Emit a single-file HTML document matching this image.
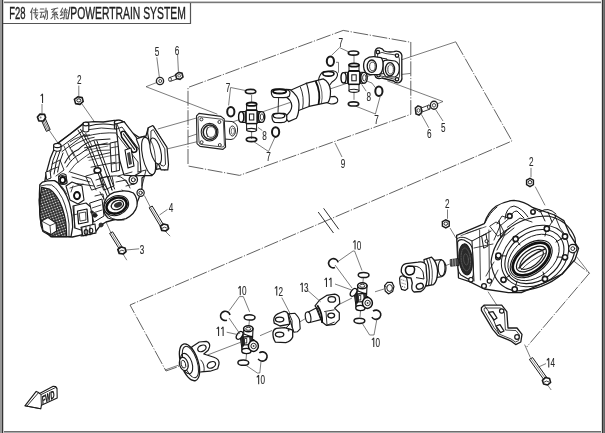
<!DOCTYPE html>
<html><head><meta charset="utf-8">
<style>
html,body{margin:0;padding:0;background:#fff;width:605px;height:433px;overflow:hidden}
svg{display:block;will-change:transform}
text{font-family:"Liberation Sans",sans-serif}
</style></head><body>
<svg width="605" height="433" viewBox="0 0 605 433">
<defs>
<pattern id="mesh" width="2.6" height="2.6" patternUnits="userSpaceOnUse" patternTransform="rotate(-20)">
<rect width="2.6" height="2.6" fill="#2a2a2a"/>
<circle cx="1.3" cy="1.3" r="0.75" fill="#fff"/>
</pattern>
<pattern id="mesh2" width="2.5" height="2.5" patternUnits="userSpaceOnUse" patternTransform="rotate(30)">
<rect width="2.5" height="2.5" fill="#fff"/>
<rect x="0" y="0" width="1.5" height="1.5" fill="#222"/>
</pattern>
</defs>
<rect x="0" y="0" width="605" height="433" fill="#fff"/>
<!-- frame -->
<g shape-rendering="crispEdges" stroke="none">
<rect x="0" y="1" width="605" height="1" fill="#c4c4c4"/>
<rect x="0" y="2" width="605" height="1" fill="#777"/>
<rect x="0" y="3" width="605" height="1" fill="#e6e6e6"/>
<rect x="0" y="431" width="605" height="1" fill="#6e6e6e"/>
<rect x="0" y="432" width="605" height="1" fill="#aaa"/>
<rect x="0" y="0" width="2" height="433" fill="#999"/>
<rect x="2" y="0" width="1" height="433" fill="#333"/>
<rect x="3" y="0" width="1" height="433" fill="#ccc"/>
<rect x="602" y="0" width="1" height="433" fill="#333"/>
<rect x="601" y="0" width="1" height="433" fill="#ddd"/>
<rect x="603" y="0" width="1" height="433" fill="#777"/>
<rect x="604" y="0" width="1" height="433" fill="#666"/>
</g>
<g fill="none"><polyline points="3,23.5 190.5,23.5 190.5,3" stroke="#555" stroke-width="1.2"/></g>
<!-- title -->
<g fill="#1e1e1e" stroke="#1e1e1e" stroke-width="0.35">
<text transform="translate(9.2,19.2) scale(0.6,1)" font-size="15.8">F28</text>
<text transform="translate(67.4,19.2) scale(0.656,1)" font-size="15.8">/POWERTRAIN SYSTEM</text>
</g>
<g stroke="#5a5a5a" stroke-width="1.05" fill="none" stroke-linecap="round">
<!-- 传 -->
<path d="M32.6,8 L30.6,12.5 M31.7,10.8 V19.5 M33.6,10 H37.6 M33.2,12.8 H38 M35.8,8 L35,15 H37.4 L35.4,17.6 M35.2,16.8 L37.6,19.2"/>
<!-- 动 -->
<path d="M40.3,9 H44 M40,12.2 H44.3 M42,12.2 L40.4,17.5 L44,16.5 M43.2,15 L44.3,17.6 M44.8,11 H47.4 V18.5 L46.4,19.5 M46,8 V13 L44.6,19"/>
<!-- 系 -->
<path d="M57.8,8 L51.5,9.4 M54.8,9.4 L52.3,12 L56.5,12.2 L52.2,15 L57.6,14.6 M56.2,13.2 L57.4,15 M54.8,15 V19.5 M53,16.6 L51,18.6 M56.6,16.6 L58.2,18.6"/>
<!-- 统 -->
<path d="M62.6,8 L60.6,12 L62.8,12 L60.6,15.5 L63.2,14.8 M60.4,18.8 L63.4,17.6 M65.4,8.2 V9.5 M63.8,10 H67.4 M65.2,10.2 L64,13 L67,12.6 M66.4,11.6 L67.2,13 M64.8,14 L63.8,19.2 M66.2,14 V18.6 L67.6,18.6"/>
</g>

<!-- dashed construction lines -->
<g fill="none" stroke="#5a5a5a" stroke-width="0.95" stroke-dasharray="15 1.6 1.2 1.6">
<polyline points="188,164 188,87.5 343.2,30.4 407.7,41.8 410.8,42 410.8,114.3 239.5,175.4 188,166"/>
<polyline points="455.7,41.8 512,141 130,305 166,371 180,366"/>
<polyline points="572.8,260.3 589.4,273.2 526.7,347"/>
</g>
<!-- break mark -->
<g stroke="#333" stroke-width="1"><line x1="318.2" y1="212" x2="333.5" y2="233"/><line x1="323.6" y1="208.3" x2="338.8" y2="229.3"/></g>

<!-- axis / leader lines (solid thin) -->
<g fill="none" stroke="#444" stroke-width="0.7">
<polyline points="157,82.4 146,86.7 217.4,114.2"/>
<line x1="49" y1="130" x2="60" y2="146"/>
<line x1="82" y1="104" x2="96" y2="124"/>
<line x1="157.8" y1="129" x2="200" y2="117"/>
<line x1="165.2" y1="149.4" x2="200" y2="141"/>
<line x1="387.3" y1="80.8" x2="443" y2="101.5"/><line x1="443" y1="101.5" x2="437" y2="104"/>
<line x1="399.4" y1="60.5" x2="455.7" y2="41.8"/>
<line x1="402" y1="74.4" x2="410.5" y2="73.4"/>
<line x1="144.4" y1="195.5" x2="150.3" y2="207"/>
<line x1="165" y1="231" x2="170.2" y2="236.2"/>
<line x1="106" y1="222" x2="111" y2="232.9"/>
<line x1="123" y1="254" x2="126.8" y2="260.2"/>

<line x1="450" y1="228" x2="456" y2="238"/>


<line x1="165" y1="370" x2="180.7" y2="364.4"/>
<line x1="207.5" y1="355" x2="240.8" y2="342.2"/>
<line x1="260" y1="335.7" x2="272" y2="330.5"/>
<line x1="298" y1="323" x2="305" y2="318.8"/>
<line x1="338" y1="305" x2="352" y2="298"/>
<line x1="375" y1="291.8" x2="384" y2="289"/>
<line x1="442.5" y1="266.8" x2="449.9" y2="264"/>
<line x1="0" y1="0" x2="0" y2="0"/>
</g>


<!-- ===== parts ===== -->
<g id="ujoint-def" style="display:none"></g>
<defs>
<g id="cross">
 <line x1="0" y1="-22" x2="0" y2="22" stroke="#444" stroke-width="0.7"/>
 <rect x="-5" y="-13" width="10" height="8" fill="#fff" stroke="#1a1a1a" stroke-width="1"/>
 <ellipse cx="0" cy="-12.8" rx="5" ry="1.7" fill="#fff" stroke="#111" stroke-width="1.8"/>
 <rect x="-5" y="6" width="10" height="7" fill="#fff" stroke="#1a1a1a" stroke-width="1"/>
 <ellipse cx="0" cy="13" rx="5" ry="1.6" fill="#fff" stroke="#1a1a1a" stroke-width="1.1"/>
 <rect x="-9" y="-5.5" width="18" height="11" fill="#fff" stroke="#111" stroke-width="1"/>
 <rect x="-5.5" y="-6.5" width="11" height="13" fill="#fff" stroke="#111" stroke-width="1.1"/>
 <rect x="-7" y="-5.5" width="2" height="11" fill="#222"/>
 <rect x="5" y="-5.5" width="2.2" height="11" fill="#222"/>
 <rect x="-2.2" y="-3" width="4.4" height="6" fill="none" stroke="#111" stroke-width="1"/>
 <line x1="-5" y1="-7" x2="5" y2="-7" stroke="#111" stroke-width="1.6"/>
 <line x1="-5" y1="6.6" x2="5" y2="6.6" stroke="#111" stroke-width="1.4"/>
 <ellipse cx="-10.4" cy="0" rx="2.6" ry="5.2" fill="#fff" stroke="#111" stroke-width="1.4"/>
 <ellipse cx="10" cy="0" rx="3.2" ry="5.4" fill="#fff" stroke="#111" stroke-width="1.4"/>
 <ellipse cx="10.3" cy="0" rx="1.7" ry="3.2" fill="none" stroke="#222" stroke-width="0.9"/>
</g>
<g id="cross2">
 <line x1="2.4" y1="-20" x2="-1" y2="20" stroke="#444" stroke-width="0.7"/>
 <!-- top cup cylinder -->
 <path d="M-3.4,-11 L6,-11.5 L5.6,-2 L-3,-1 Z" fill="#fff" stroke="#111" stroke-width="1.1"/>
 <!-- bottom cup cylinder -->
 <path d="M-5,3 L4,3 L4,11 L-5,11 Z" fill="#fff" stroke="#111" stroke-width="1.1"/>
 <!-- body -->
 <path d="M-7,-5 L-3,-6 L5,-3 L7,4 L2,9 L-5,9 L-6,2 Z" fill="#fff" stroke="#111" stroke-width="1.1"/>
 <path d="M-6,-4 L-3.4,-5.6 L-2,4 L-4.6,8.6 L-5.8,2 Z" fill="#222"/>
 <path d="M2,-4 L5,-3 L6.2,1 L2.6,1.6 Z" fill="#333"/>
 <path d="M-3.4,-3 L5.6,-3.6" stroke="#111" stroke-width="1.4"/>
 <path d="M-4.6,5 L3.6,4.6" stroke="#111" stroke-width="1.2"/>
 <rect x="-2.4" y="-1.4" width="2.2" height="4.4" fill="#fff" stroke="#111" stroke-width="0.8"/>
 <!-- top face -->
 <ellipse cx="1.3" cy="-11.2" rx="4.7" ry="3" fill="#fff" stroke="#111" stroke-width="1.5"/>
 <ellipse cx="1.3" cy="-11.2" rx="2.6" ry="1.5" fill="none" stroke="#222" stroke-width="0.9"/>
 <!-- left cup -->
 <ellipse cx="-7.4" cy="-4.6" rx="2.6" ry="4.4" transform="rotate(35 -7.4 -4.6)" fill="#fff" stroke="#111" stroke-width="1.3"/>
 <!-- bottom face -->
 <ellipse cx="-0.6" cy="11" rx="4.6" ry="2.6" fill="#fff" stroke="#111" stroke-width="1.3"/>
 <!-- right cup -->
 <path d="M3,1 L7,-0.6 L11,8 L6,11.4 Z" fill="#fff" stroke="#111" stroke-width="1"/>
 <ellipse cx="6.4" cy="6" rx="5" ry="5.4" fill="#fff" stroke="#111" stroke-width="1.5"/>
 <circle cx="6.6" cy="6" r="2.7" fill="none" stroke="#222" stroke-width="1"/>
 <circle cx="6.6" cy="6" r="0.9" fill="#444" stroke="none"/>
</g>
<g id="clipflat2"><ellipse cx="0" cy="0" rx="5.4" ry="2.6" fill="none" stroke="#1a1a1a" stroke-width="1.5"/></g>
<g id="clipflat"><ellipse cx="0" cy="0" rx="5.2" ry="2.1" fill="none" stroke="#1a1a1a" stroke-width="1.7"/></g>
<g id="clipside"><ellipse cx="0" cy="0" rx="3.6" ry="4.8" fill="none" stroke="#1a1a1a" stroke-width="2"/></g>
<g id="clipC"><path d="M1.5,4.6 A4.8,4.6 0 1 1 4.6,-0.6" fill="none" stroke="#1a1a1a" stroke-width="1.6"/></g>
<g id="hexnut">
 <polygon points="-3.6,-2.6 0,-4.4 3.6,-2.6 3.6,2.2 0,4.2 -3.6,2.2" fill="#fff" stroke="#1a1a1a" stroke-width="1.5"/>
 <ellipse cx="0" cy="-0.4" rx="1.9" ry="1.8" fill="none" stroke="#222" stroke-width="1"/>
</g>
</defs>


<!-- ===== FRONT DIFF ===== -->
<g id="fd" stroke="#1a1a1a" fill="#fff" stroke-linejoin="round" stroke-linecap="round">
 <!-- silhouette -->
 <path d="M44.8,181.3 L46.3,172.8 L50.3,158.3 L54.4,148.6 L56,144.6 L70,134 L84.3,122.6 L93.5,121.6 L103.3,122 L114.3,120.4 L120,120.4 L124.2,122.2 L129.8,131.4 L139.3,137.5 L146,136 L148.3,127.8 L153.5,126.3 L166.3,147.3 L167.8,166.8 L164.8,169.8 L161.8,168.3 L152,170 L142,178 L142,188 L139.7,196 L137.4,201.7 L134.9,209.7 L126.8,217 L115.5,219.4 L106,222 L100.2,225.6 L94.7,233 L81.7,234.9 L72.5,237 L67,236.7 L52,236.7 L43,231.5 L41,225.6 L39.2,200 L41,188.7 Z" stroke-width="1.3"/>
 <!-- mesh face -->
 <path d="M39.8,184.7 L42.4,182.1 Q48,180.4 54.5,180.7 Q58,182 60.6,186.5 Q64,190 66.7,196 Q69.6,202 71,210 Q72.6,218 72.7,227.2 L71,236.7 L51,236.7 Q44,230 40.7,222 Q38.6,204 39.8,184.7 Z" fill="#fff" stroke-width="1.3"/>
 <path d="M41.5,187.3 Q45,188 49.3,189 Q53,191 56.3,196 Q60,201 62.3,208 Q64.6,215 65.8,222 Q66.6,230 66.7,236.7 L51,236.7 Q44,230 40.7,222 Q38.8,204 41.5,187.3 Z" fill="url(#mesh)" stroke-width="1.2"/>
 <path d="M40.6,186 Q47,184 51.6,185 Q56,187.6 58.6,192 Q63,198 65,205 Q68,214 69,224 L69,236.7" fill="none" stroke-width="0.9"/>
 <path d="M54.5,180.7 Q62,184 66.7,194" fill="none" stroke-width="0.8"/>
 <!-- small box protrusion -->
 <path d="M41.5,221 L48,217.6 L56,223 L56.6,231 L50.8,234.6 L43,230.4 Z" stroke-width="1.1"/>
 <path d="M41.5,221 L50,225.6 L56,223 M50,225.6 L50.8,234.6" fill="none" stroke-width="0.8"/>
 <!-- shell rim (double band) -->
 <path d="M57,144 L83,124.4" fill="none" stroke-width="1.1"/>
 <path d="M59.6,148 L84.6,129.4" fill="none" stroke-width="1"/>
 <path d="M62,151.6 L86,133.6" fill="none" stroke-width="0.9"/>
 <!-- left post -->
 <path d="M57,150 Q52,160 50.6,172 M60,151 Q55.6,161 54,174 M63,153 Q59,162 57.6,172" fill="none" stroke-width="1"/>
 <path d="M46,172 L50,170.6 L51,178 L47,179.6 Z" stroke-width="1"/>
 <path d="M58.6,176 Q62,172 66,175 L67,182 Q63,185 59,182 Z" stroke-width="1.1"/>
 <ellipse cx="62.7" cy="179.6" rx="2.4" ry="3" fill="#fff" stroke-width="1.4"/>
 <!-- studs -->
 <path d="M53.6,145.5 L53.6,150 Q57.4,152.6 61,150 L61,145.5" stroke-width="1.1"/>
 <ellipse cx="57.3" cy="145.5" rx="3.7" ry="2.2" stroke-width="1.2"/>
 <path d="M83,124 L83,131 Q85.8,133 88.8,131 L88.8,124" stroke-width="1.1"/>
 <ellipse cx="85.9" cy="124" rx="2.9" ry="1.8" stroke-width="1.2"/>
 <path d="M114.4,122.3 L114.4,128.6 Q118.6,131 122.7,128.6 L122.7,122.3" stroke-width="1.1"/>
 <ellipse cx="118.5" cy="122.3" rx="4.1" ry="2.2" stroke-width="1.2"/>
 <!-- dome arcs -->
 <path d="M88.8,126 Q100,122.6 114.4,125" fill="none" stroke-width="1.1"/>
 <path d="M88.8,129.6 Q101,126.6 114.4,129" fill="none" stroke-width="0.9"/>
 <path d="M85,136.6 Q100,132 117.7,133" fill="none" stroke-width="0.9"/>
 <!-- main cover arc band -->
 <path d="M64.8,163 Q70,153 78,149.8 Q86,142 94.6,140 L110,139" fill="none" stroke-width="1.1"/>
 <path d="M66.6,167 Q72,158 80,154 Q88,147 96,145 L110,144" fill="none" stroke-width="1"/>
 <path d="M69,172 Q75,163 82,159 Q90,152 97,150.6 L110,150" fill="none" stroke-width="0.8"/>
 <path d="M70,142 Q78,136 89.4,134.8 M70,147.8 Q82,139 94.2,137.3" fill="none" stroke-width="0.9"/>
 <!-- horizontal bands -->
 <path d="M84.5,147.8 L107.2,143 M87.8,157.5 L110.4,152.6 M91,167.2 L115.2,162.3" fill="none" stroke-width="0.9"/>
 <path d="M85,150.6 L108,146 M89,160.4 L111,155.6" fill="none" stroke-width="0.6"/>
 <!-- frame box -->
 <path d="M110.4,143 L118.5,141.3 L119.6,170.4 L112,172 Z" fill="none" stroke-width="1"/>
 <path d="M111,147.8 L118.6,146.4 M111.4,155.8 L119,154.4 M111.8,164 L119.4,162.6" fill="none" stroke-width="0.8"/>
 <path d="M115,142 L116.4,171" fill="none" stroke-width="0.7"/>
 <!-- long ribs -->
 <path d="M78,130 L88.6,149.4 L97.5,172 L108.8,200 M80.6,129.4 L91.2,149 L100,171.4 L111.4,199" fill="none" stroke-width="1"/>
 <path d="M94.2,141.3 L105.5,172 L112,190 M96.8,140.6 L108,171.4 L114.6,189" fill="none" stroke-width="1"/>
 <path d="M64,146 L70,160 M68,143.4 L74,156" fill="none" stroke-width="0.8"/>
 <!-- boss in middle -->
 <ellipse cx="97.5" cy="170.4" rx="3.4" ry="2.6" fill="#fff" stroke-width="1.6"/>
 <path d="M70,172 L91,178.5 L96,190 M74.8,183.3 L94,186 M72,177 L90,182" fill="none" stroke-width="0.9"/>
 <!-- slot bracket -->
 <path d="M116,124 L124,121.6 L146,150 L145,172 L136,176 L124,175.2 L119.6,160 Z" stroke-width="1.2"/>
 <path d="M117,129 L122,127 L141,152 L141,170 M116.4,134 L138,162 L138,172" fill="none" stroke-width="0.9"/>
 <path d="M121,133 Q122,130.6 124.6,131.6 L136.6,148 Q137.6,151 135.4,152 L133,152.6 L121.6,137 Z" fill="#fff" stroke="#111" stroke-width="1.5"/>
 <path d="M123.4,134 L134.6,149.4" stroke="#222" stroke-width="1.2"/>
 <path d="M125,150 L131,148 L134,166 L128,168 Z" fill="#fff" stroke="#111" stroke-width="1.1"/>
 <path d="M127,153 L130,152 L132,164 L129,165 Z" fill="#444" stroke="none"/>
 <path d="M124,121.6 L121.6,122.2 M117,124 L121,134" fill="none" stroke-width="0.9"/>
 <!-- neck -->
 <path d="M136.3,139 L143,136.8 Q153,141 157.3,156 Q158.6,170 152,175.6 L140,175.6 L134,176 L141,172 L139,146 Z" stroke-width="1.1"/>
 <ellipse cx="148.6" cy="156" rx="6" ry="19" transform="rotate(-12 148.6 156)" stroke-width="1.1"/>
 <!-- flange -->
 <path d="M148.3,127.8 L152.8,125.5 L167,147.3 L168.5,164.5 L167.8,169.8 L161,169.8 L149.4,143 L147.6,133 Z" stroke-width="1.2"/>
 <path d="M151.3,130.8 L153.4,129.6 L164.8,148.8 L165.5,164.5 L163.6,166 L161,165.3 L151,142 Z" fill="none" stroke-width="0.9"/>
 <ellipse cx="155.7" cy="151" rx="5" ry="13.4" transform="rotate(-14 155.7 151)" stroke-width="1.1"/>
 <path d="M150.4,139.6 Q156,150 155.4,164" fill="none" stroke-width="0.8"/>
 <!-- left column bosses -->
 <path d="M66,186 L72,182 L82,186 L84,200 L78,204 L70,200 Z" stroke-width="1.1"/>
 <path d="M58.6,177 Q62,174 66,177 L67,183 Q63,186 59,183 Z" stroke-width="1.1"/>
 <ellipse cx="62.6" cy="180" rx="2.6" ry="3" fill="#fff" stroke="#111" stroke-width="1.8"/>
 <ellipse cx="77" cy="195.6" rx="3" ry="3.6" fill="#fff" stroke="#111" stroke-width="1.9"/>
 <path d="M70,188 L83,184 M71,192 L73,186" fill="none" stroke-width="0.8"/>
 <path d="M86,176 L100,172 L104,186 L92,190 Z" fill="none" stroke-width="0.9"/>
 <!-- lower-left boss block -->
 <path d="M73,206 L86,203 L92,208 L93,227.4 L84,231 L75,228 Z" stroke-width="1.2"/>
 <path d="M77.5,211 L87,209 L88,222 L78.6,224 Z" fill="#fff" stroke="#111" stroke-width="1.2"/>
 <path d="M79.6,213 L85.6,212 L86,220 L80.4,221 Z" fill="none" stroke-width="0.8"/>
 <path d="M74,206 L74.6,228 M73,215 L77.6,214" fill="none" stroke-width="0.8"/>
 <path d="M90,203 L102,199 L104,216 L94,222 Z" stroke-width="1"/>
 <path d="M92,208 L101,205 M93,213 L102,210" fill="none" stroke-width="0.8"/>
 <ellipse cx="94.9" cy="215.3" rx="2.2" ry="2" fill="#222" stroke-width="0.8"/>
 <path d="M81,227.4 L95,224 L96,233 L83,236 Z" stroke-width="1.1"/>
 <ellipse cx="86" cy="232" rx="1.8" ry="2.4" fill="#fff" stroke-width="1.1"/>
 <ellipse cx="91" cy="230.6" rx="1.8" ry="2.4" fill="#fff" stroke-width="1.1"/>
 <ellipse cx="101" cy="225" rx="2" ry="2" fill="#333" stroke-width="0.8"/>
 <!-- extra density -->
 <path d="M52,164 L60,160 L64,170 L56,176 M50,170 L58,167" fill="none" stroke-width="0.9"/>
 <path d="M118,176 L132,172 M116,182 L126,180 L130,188 M122,190 L130,196" fill="none" stroke-width="0.9"/>
 <path d="M100,178 L112,176 L114,186 L104,190 Z" fill="none" stroke-width="0.9"/>
 <path d="M72,150 L78,162 M86,134 L92,146" fill="none" stroke-width="0.8"/>
 <!-- output boss -->
 <path d="M103.6,207 Q104,196 114,192.4 Q126,189 133.4,193 Q138,198 137,206 Q135,214 126,218.6 Q116,221.6 108,218 Q103.4,214 103.6,207 Z" stroke-width="1.2"/>
 <ellipse cx="116.4" cy="205.6" rx="12.6" ry="9.6" transform="rotate(-22 116.4 205.6)" stroke-width="1.1"/>
 <ellipse cx="116.6" cy="205.6" rx="10.4" ry="7.6" transform="rotate(-22 116.6 205.6)" fill="none" stroke="#111" stroke-width="2.6"/>
 <ellipse cx="117.4" cy="205" rx="6.4" ry="4.4" transform="rotate(-22 117.4 205)" stroke-width="1.2"/>
 <ellipse cx="118" cy="204.8" rx="4.2" ry="2.6" transform="rotate(-22 118 204.8)" fill="#333" stroke="none"/>
 <path d="M104,210 Q110,222 124,220" fill="none" stroke-width="0.9"/>
 <!-- extra lower-left details -->
 <path d="M82,228 L82,236 M86,227 L86,236 M90,226 L90,235" fill="none" stroke-width="0.9"/>
 <path d="M81,236 L95,233" fill="none" stroke-width="1"/>
 <path d="M95,196 L103,194 L104,200 M97,186 L104,184 L108,190" fill="none" stroke-width="0.9"/>
 <ellipse cx="92" cy="212" rx="1.8" ry="1.6" fill="#222" stroke="none"/>
 <!-- bolt bosses right -->
 <circle cx="133.3" cy="179.8" r="4.2" stroke-width="1.3"/>
 <circle cx="133.3" cy="179.8" r="2" stroke-width="1"/>
 <circle cx="140.6" cy="192.8" r="3.6" stroke-width="1.2"/>
 <circle cx="140.6" cy="192.8" r="1.7" stroke-width="0.9"/>
 <path d="M138,172 L146,170 L142,186 M126,186 L134,184" fill="none" stroke-width="0.9"/>
 <!-- lower housing lines -->
 <path d="M96,180 L108,176 L112,190 M100,192 L104,199" fill="none" stroke-width="0.9"/>
 <path d="M112,176 Q122,174 128,184" fill="none" stroke-width="0.9"/>
</g>
<!-- bolts 3,4 -->
<g stroke="#1a1a1a" fill="#fff" stroke-linejoin="round">
 <path d="M149.2,207.8 L152.2,206 L163.4,224.6 L160.4,226.4 Z" stroke-width="1"/>
 <path d="M150.8,207.4 L161.8,225.4" fill="none" stroke-width="0.5"/>
 <polygon points="160.4,226.2 163.6,224 167.6,225 168.6,228.6 165.8,231 161.8,230.4" fill="#fff" stroke-width="1.7"/>
 <path d="M162,228.4 L164.4,227.2 L166.8,228" fill="none" stroke-width="0.8"/>
 <path d="M109.6,233.4 L112.6,231.8 L122.4,247.4 L119.4,249.2 Z" stroke-width="1"/>
 <path d="M111.2,232.8 L120.8,248.4" fill="none" stroke-width="0.5"/>
 <polygon points="117.8,249.4 121,247 125,248 126,251.6 123.2,254 119.2,253.4" fill="#fff" stroke-width="1.7"/>
 <path d="M119.4,251.4 L121.8,250.2 L124.2,251" fill="none" stroke-width="0.8"/>
</g>
<g fill="none" stroke="#444" stroke-width="0.7">
 <line x1="167.5" y1="209.4" x2="159.5" y2="215"/>
 <line x1="139.2" y1="248.8" x2="125.9" y2="250"/>
</g>


<!-- ===== REAR DIFF ===== -->
<g id="rd" stroke="#1a1a1a" fill="#fff" stroke-linejoin="round" stroke-linecap="round">
 <!-- silhouette -->
 <path d="M456.6,235.4 L484.3,223.6 Q488,212 496,206.3 Q505,201 514,200.3 Q524,201 533,207.7 L554.6,215 L563.8,220.6 L569.3,233.6 L578.6,248.4 L575,259.5 L562,274.2 L547,281.6 L521.3,292.7 L508.4,292.7 L484.3,289 L469.6,281.6 L458.5,278 Z" stroke-width="1.3"/>
 <!-- dome inner -->
 <path d="M484.7,223.3 Q490,212 497,207 M499.2,220.8 L500.8,237" fill="none" stroke-width="1"/>
 <path d="M505,219 Q506,207 514,206 Q522,208 528,217 M510,218 Q512,211 517,211 L524,218" fill="none" stroke-width="1"/>
 <!-- input block -->
 <path d="M457,239 Q460,236 466,238 L472,241 L491,231 M472,241 L474,281" fill="none" stroke-width="1"/>
 <path d="M461,235.6 L481,228 M466,233.6 L486,226.6" fill="none" stroke-width="0.7"/>
 <path d="M457.6,242 Q459,238.6 464,240 L469,243 Q472.6,246 472.6,252 L473.4,274 Q473,280 468,279 L461,275 Q458,272 458,268 Z" fill="#fff" stroke-width="1.1"/>
 <ellipse cx="465.6" cy="259.4" rx="6.6" ry="15.6" transform="rotate(-6 465.6 259.4)" fill="#2a2a2a" stroke-width="1"/>
 <ellipse cx="465.8" cy="259.4" rx="4.6" ry="11.4" transform="rotate(-6 465.8 259.4)" fill="none" stroke="#777" stroke-width="0.6" stroke-dasharray="1.2 1.2"/>
 <ellipse cx="466" cy="259.4" rx="2.4" ry="5.6" transform="rotate(-6 466 259.4)" fill="none" stroke="#666" stroke-width="0.6"/>
 <path d="M450.5,259.6 L458.4,258.4 L459,265.4 L451,266.2 Z" fill="#444" stroke-width="0.8"/>
 <path d="M452.6,259.2 L453,266 M455,258.8 L455.4,265.8" stroke="#fff" stroke-width="0.5"/>
 <path d="M479.6,230 L480.4,280 M488.9,230 L489.4,283 M474,248 L493,244" fill="none" stroke-width="0.8"/>
 <path d="M482,236 L486,234 L488,246 L484,248 Z" fill="none" stroke-width="1"/>
 <circle cx="486.6" cy="241.2" r="1.6" fill="#fff" stroke-width="1"/>
 <path d="M490,226 L496,222 L500,224 L504,232 L498,236 Z" fill="none" stroke-width="0.9"/>
 <path d="M497,224 L502,216 L508,218 M503,232 L510,228" fill="none" stroke-width="0.9"/>
 <circle cx="470.9" cy="279.7" r="2.2" stroke-width="1.2"/>
 <circle cx="484" cy="286" r="2.4" stroke-width="1.3"/>
 <circle cx="489.4" cy="281" r="2.2" stroke-width="1.2"/>
 <circle cx="498" cy="257.4" r="2.4" stroke-width="1.3"/>
 <!-- rd extra -->
 <path d="M494,240 L500,226 L512,216 M497,250 L504,236 L514,228" fill="none" stroke-width="0.9"/>
 <path d="M490,286 L498,270 M486,276 L494,262" fill="none" stroke-width="0.8"/>
 <!-- main face rings -->
 <path d="M491,262 Q493,244 507,230 Q524,216 548,216 Q568,220 575,238 Q578,258 562,274 Q544,290 516,291 Q494,288 491,262 Z" fill="none" stroke-width="1.2"/>
 <ellipse cx="535" cy="256" rx="36" ry="28" transform="rotate(-35 535 256)" fill="none" stroke-width="1"/>
 <ellipse cx="534.4" cy="256.6" rx="32" ry="24" transform="rotate(-36 534.4 256.6)" fill="none" stroke-width="1.1"/>
 <ellipse cx="533.6" cy="257.4" rx="28.6" ry="19.6" transform="rotate(-37 533.6 257.4)" fill="none" stroke-width="0.9"/>
 <path d="M515.6,239 L520,245 M546.8,228.7 L545,236 M565,236.5 L556,242 M565,257.3 L557,257 M545,279 L543,272 M514.7,289.3 L517,281 M503.5,279.8 L510,275 M498.4,255.6 L506,256" fill="none" stroke-width="1"/>
 <ellipse cx="531.2" cy="259" rx="24" ry="14.6" transform="rotate(-38 531.2 259)" fill="#fff" stroke-width="1.1"/>
 <ellipse cx="531.2" cy="259" rx="21.4" ry="12.4" transform="rotate(-38 531.2 259)" fill="none" stroke="#111" stroke-width="2.8"/>
 <ellipse cx="531.4" cy="259" rx="17.6" ry="9" transform="rotate(-38 531.4 259)" fill="#fff" stroke-width="1.2"/>
 <ellipse cx="531.6" cy="259.4" rx="14" ry="6.4" transform="rotate(-38 531.6 259.4)" fill="none" stroke-width="1.1"/>
 <path d="M519,268 Q528,256 545,249" fill="none" stroke="#222" stroke-width="1.6"/>
 <path d="M521,270 Q530,260 546,253" fill="none" stroke-width="0.8"/>
 <!-- upper ribs / tubes -->
 <path d="M533,207.7 L540,212 Q548,206 556,214 M539.6,209.5 L545,221 M548,212 L552,222" fill="none" stroke-width="1"/>
 <path d="M554.6,215 L560,228 L566,236 M556,216 L548,228" fill="none" stroke-width="0.9"/>
 <path d="M507.3,227.3 L520,218 L532,222 M498.4,240 L505,234" fill="none" stroke-width="0.9"/>
 <!-- right boss -->
 <circle cx="572.8" cy="248.6" r="4.2" stroke-width="1.3"/>
 <circle cx="572.8" cy="248.6" r="1.9" stroke-width="0.9"/>
 <!-- bolt bosses -->
 <g stroke-width="1.6">
 <circle cx="509.7" cy="216" r="2.4"/><circle cx="515.6" cy="239" r="2.6"/><circle cx="546.8" cy="228.7" r="2.6"/>
 <circle cx="565" cy="236.5" r="2.6"/><circle cx="565" cy="257.3" r="2.6"/><circle cx="545" cy="279" r="2.6"/>
 <circle cx="514.7" cy="289.3" r="2.6"/><circle cx="503.5" cy="279.8" r="2.6"/><circle cx="498.4" cy="255.6" r="2.6"/>
 <circle cx="533" cy="212" r="2.2"/>
 </g>
</g>
<!-- nuts 2 (rear) -->
<use href="#hexnut" transform="translate(530,182.6) scale(0.95)"/>
<use href="#hexnut" transform="translate(445.8,224) scale(0.95)"/>
<g fill="none" stroke="#444" stroke-width="0.7">
 <line x1="531" y1="167.9" x2="531" y2="177.2"/>
 <line x1="447.5" y1="209.5" x2="447.5" y2="218.8"/>
 <line x1="535.2" y1="186.6" x2="545" y2="205.3"/><line x1="576" y1="256" x2="589.4" y2="273.2"/>
 <line x1="488" y1="291.7" x2="498" y2="307"/>
</g>
<!-- bracket -->
<g stroke="#1a1a1a" fill="#fff" stroke-linejoin="round">
 <path d="M481.4,307.8 L484,305.2 L501.7,305.2 L506.8,311.6 L508,328 L517,328 L522,334.4 L520.8,342 L515.7,344.6 L510.6,340.8 L498,335.7 L492.8,329.3 L481.4,310.3 Z" stroke-width="1.3"/>
 <path d="M484.4,308 L500.6,308 L504.4,312.6 L505.4,330 L516,330.6 L519.4,335 L518.6,340.6 L515.4,342 L511,339 L499,334 L494,327.6 L484,310 Z" fill="none" stroke-width="0.8"/>
 <path d="M484,305.2 L492,316 L499,334" fill="none" stroke-width="0.9"/>
 <circle cx="501.7" cy="311" r="2.2" stroke-width="1.2"/>
 <path d="M488.6,312.4 L493,311.6 L497,318 L494,320 Z" fill="#fff" stroke-width="1.3"/>
 <path d="M496,326 L500,324.6 L504,331 L500.6,332.6 Z" fill="#fff" stroke-width="1.3"/>
 <circle cx="517" cy="337" r="2.3" stroke-width="1.2"/>
</g>
<!-- bolt 14 -->
<g stroke="#1a1a1a" fill="#fff" stroke-linejoin="round">
 <path d="M529.4,359.4 L532.6,357.6 L546.4,377 L543.4,379 Z" stroke-width="1"/>
 <path d="M531,358.6 L545,378" fill="none" stroke-width="0.5"/>
 <polygon points="542.4,380.4 545.6,377.4 549.6,378.6 550.6,382.4 547.6,385 543.6,384" fill="#fff" stroke-width="1.6"/><path d="M543.8,382.4 L546.4,381 L549,382" fill="none" stroke-width="0.8"/>
 <line x1="547.6" y1="385" x2="551.2" y2="390" stroke="#444" stroke-width="0.7"/>
 <line x1="524.6" y1="344.6" x2="530.4" y2="357.6" stroke="#444" stroke-width="0.7"/>
 <line x1="546" y1="363.6" x2="538.5" y2="367" stroke="#444" stroke-width="0.7"/>
</g>


<!-- ===== LOWER SHAFT ===== -->
<!-- flange yoke -->
<g stroke="#1a1a1a" fill="#fff" stroke-linejoin="round">
 <path d="M191.7,347 L199.3,342 L206.3,341.4 Q210.6,343 209.5,347 L208.2,350.2 L203.8,354 L213.9,357.2 Q219.6,359 219,364 L217.7,368.7 L210.1,371.2 L201.2,371.8 L196,372 Z" stroke-width="1.2"/>
 <ellipse cx="201.9" cy="348.4" rx="4.4" ry="3" transform="rotate(-25 201.9 348.4)" stroke-width="1.3"/>
 <ellipse cx="211.4" cy="364.9" rx="4.4" ry="3" transform="rotate(-25 211.4 364.9)" stroke-width="1.3"/>
 <path d="M200.6,359.8 Q205,364 204,372" fill="none" stroke-width="0.9"/>
 <ellipse cx="189.5" cy="362.3" rx="19.2" ry="8.6" transform="rotate(71.6 189.5 362.3)" stroke-width="1.3"/>
 <ellipse cx="190.4" cy="362" rx="16.4" ry="6.6" transform="rotate(71.6 190.4 362)" fill="none" stroke-width="1"/>
 <ellipse cx="186.6" cy="363.6" rx="10.6" ry="5.4" transform="rotate(71.6 186.6 363.6)" fill="none" stroke-width="1.1"/>
 <ellipse cx="183.8" cy="364" rx="4.2" ry="6.8" transform="rotate(-15 183.8 364)" stroke-width="1.2"/>
 <ellipse cx="183.4" cy="364.2" rx="2.2" ry="4" transform="rotate(-15 183.4 364.2)" fill="none" stroke-width="0.9"/>
</g>
<!-- yoke 12 -->
<g stroke="#1a1a1a" fill="#fff" stroke-linejoin="round">
 <path d="M288.1,313.9 L295,313.3 Q299.6,318 299.6,320.8 L300.2,328.9 L297.3,331.8 L293.9,332.3 Z" stroke-width="1.1"/>
 <path d="M289.2,313.9 Q293.4,320 292.1,327.7" fill="none" stroke-width="1"/>
 <path d="M273.7,320.2 Q274,315.6 277.7,313.9 L283.5,311.5 Q287,311 288,314 L289.8,324.2 L280,326 L274.2,323.1 Z" stroke-width="1.3"/>
 <ellipse cx="279.6" cy="319.6" rx="4.2" ry="2.4" stroke-width="1.3"/>
 <path d="M273,332.3 Q273.6,329 276.5,328.3 L284.6,327.7 L292.7,330 L292.7,337 Q291,341 285.8,342.7 L275.4,342.1 Q272.6,338 273,332.3 Z" stroke-width="1.3"/>
 <ellipse cx="279.6" cy="334.6" rx="4.2" ry="2.4" stroke-width="1.3"/>
 <path d="M289.8,324.2 L286,327.8" fill="none" stroke-width="1"/>
 <ellipse cx="288.6" cy="330" rx="0.9" ry="1.6" fill="#333" stroke="none"/>
</g>
<!-- yoke 13 -->
<g stroke="#1a1a1a" fill="#fff" stroke-linejoin="round">
 <path d="M306.9,312.7 L316.2,308 L320.8,319.6 L309.8,322.5 Z" stroke-width="1.1"/>
 <ellipse cx="308.1" cy="317.3" rx="2.7" ry="5.4" transform="rotate(-10 308.1 317.3)" stroke-width="1.2"/>
 <path d="M315,305.8 L319.6,300 L326.6,295.4 L334.6,294.2 Q338.6,295 339.3,297.7 L339.8,303.5 L334.6,308.1 L339.3,312.7 L339.3,319.6 L334.6,324.3 L326.6,325.4 L322,322 L317.6,309 Z" stroke-width="1.2"/>
 <path d="M317.3,305.2 Q322.6,313 322.2,323" fill="none" stroke="#111" stroke-width="1.8"/>
 <path d="M324.2,311.6 L334.6,309.8" fill="none" stroke-width="0.9"/>
 <ellipse cx="331.8" cy="299.4" rx="3.8" ry="2.8" stroke-width="1.3"/>
 <ellipse cx="331.2" cy="315.6" rx="3.4" ry="2.4" stroke-width="1.3"/>
 <path d="M326,312 L327,325 M326.6,325.4 L334.6,322" fill="none" stroke-width="0.9"/>
</g>
<use href="#cross2" transform="translate(247,340)"/>
<use href="#cross2" transform="translate(361,297)"/>
<use href="#clipC" transform="translate(225.4,315.6)"/>
<use href="#clipflat2" transform="translate(249.6,317.4)"/>
<use href="#clipflat2" transform="translate(243.3,362.7)"/>
<use href="#clipC" transform="translate(262.3,356.8) rotate(160)"/>
<use href="#clipC" transform="translate(333.5,263)"/>
<use href="#clipflat2" transform="translate(363.6,275)"/>
<use href="#clipflat2" transform="translate(359.4,320.8)"/>
<use href="#clipC" transform="translate(376,315) rotate(160)"/>
<!-- nut -->
<g stroke="#1a1a1a" fill="#fff" stroke-linejoin="round">
 <polygon points="384.6,285.6 387.4,282.4 392,282.4 394,286.4 392.6,291.6 388.6,294 385.2,291" stroke-width="1.2"/>
 <ellipse cx="389.6" cy="288" rx="2.8" ry="3.4" stroke-width="1"/>
 <path d="M384.6,285.6 L386.6,287 M392,282.4 L392.6,284" fill="none" stroke-width="0.9"/>
</g>
<!-- leaders lower -->
<g fill="none" stroke="#444" stroke-width="0.7">
 <polyline points="229.3,310.5 239.4,296.6 243.3,296.6 249.6,311.8"/>
 <line x1="226.7" y1="332.2" x2="238.2" y2="334.7"/>
 <polyline points="245.8,365.2 257.3,373 259.8,373 261,361.4"/>
 <line x1="281.8" y1="297.6" x2="289.8" y2="313"/>
 <line x1="306.8" y1="289.7" x2="320.6" y2="301.8"/>
 <polyline points="338,261.5 353,251 354.6,251 362,270.5"/>
 <line x1="335" y1="284" x2="351.6" y2="290"/>
 <polyline points="362,323 369.6,335 374,335 377,318.6"/>
 <line x1="335" y1="265" x2="352" y2="288"/>
 <line x1="229" y1="318" x2="240" y2="334"/>
</g>
<!-- rear input yoke -->
<g stroke="#1a1a1a" fill="#fff" stroke-linejoin="round">
 <!-- hub cylinder -->
 <path d="M434,260.4 L441,259.6 Q446,262 446,268 Q446,275 441.6,276.6 L434,278 Z" stroke-width="1.2"/>
 <ellipse cx="441.6" cy="268" rx="3.4" ry="8" stroke-width="1.1"/>
 <!-- collar -->
 <path d="M424,259.6 L431.6,257.2 Q437,262 437.6,271 Q437.6,281 433.6,284.6 L426,286 Z" stroke-width="1.3"/>
 <path d="M426.6,259 Q431,270 428.6,285.6" fill="none" stroke-width="1.1"/>
 <path d="M429.4,258.4 Q434,270 431.4,285" fill="none" stroke-width="0.8"/>
 <!-- yoke body -->
 <path d="M401.3,269.6 Q401.6,264.6 406,263.6 L418,262.1 Q424,261 426,265 L427,280 Q426,289 421,291.5 L414,292 Q410.6,290 412.3,283 L411,278 Q404,278 401.3,272 Z" stroke-width="1.3"/>
 <path d="M405.4,270 Q405.6,266.4 409,266 L413,266.2 Q415.6,268 414,272.6 Q412.6,275 409,275 Q405.6,274 405.4,270 Z" fill="#fff" stroke="#111" stroke-width="1.5"/>
 <path d="M414,266.2 Q420,266 423,272 L424,279 L416,277.6" fill="none" stroke-width="1"/>
 <ellipse cx="419.8" cy="286.3" rx="3.6" ry="2.8" transform="rotate(-20 419.8 286.3)" stroke-width="1.4"/>
 <!-- left edge ear -->
 <path d="M399.6,278 Q400,275.6 403,276 L406.6,277.6 Q408,283 407.7,288.6 L405,290.4 L401.6,289.4 Q399.4,284 399.6,278 Z" stroke-width="1.2"/>
 <path d="M401.4,279.6 L405.6,281 M401.6,283 L406,284.4 M402,286.4 L406,287.6" fill="none" stroke-width="0.7" stroke-dasharray="1 1"/>
</g>
<!-- FWD arrow -->
<g stroke="#1a1a1a" fill="#fff" stroke-linejoin="round">
 <path d="M24.9,405.8 L36.2,391.4 L38.6,392.6 L39.6,393.6 L53.2,386.2 L55.7,386.6 L57,388.4 L57.2,397.9 L41.4,405.3 L40.8,408.8 Z" stroke-width="1.1"/>
 <path d="M24.9,405.8 L26.8,406.2 L38.6,392.6 M26.8,406.2 L40.8,408.8 M39.6,393.6 L41,394.6 L41.4,405.3 M41,394.6 L55.4,387.6 L57,388.4" fill="none" stroke-width="0.9"/>
 <text transform="matrix(0.5,-0.26,0.08,1,42.2,404.2)" font-size="11" font-weight="bold" fill="#111" stroke="#111" stroke-width="0.4">FWD</text>
</g>

<!-- bolt 1 -->
<g stroke="#1a1a1a" fill="#fff" stroke-linejoin="round">
 <path d="M40.6,118.6 L46.4,131.4 L50.2,129.6 L44.4,116.6 Z" stroke-width="1"/>
 <path d="M42.4,119.6 L47.6,130.6 M43.8,119 L49,130" stroke-width="0.6" fill="none"/>
 <polygon points="37.4,117 40,114.2 44.6,114.4 45.6,117.6 43.4,121 38.8,120.8" fill="#fff" stroke-width="1.7"/>
 <circle cx="40.6" cy="117.4" r="1" fill="#777" stroke="none"/>
</g>
<!-- nut 2 (front) -->
<g stroke="#1a1a1a" fill="#fff" stroke-linejoin="round" transform="translate(-0.6,0.8)">
 <polygon points="75,98.6 78.4,96 82.8,96.8 83.8,100.6 80.6,103.6 76.2,102.8" fill="#fff" stroke-width="1.6"/>
 <ellipse cx="79.4" cy="99.6" rx="2" ry="1.6" fill="none" stroke-width="1"/>
</g>
<!-- washer 5 + bolt 6 (top) -->
<g stroke="#222" fill="#fff">
 <ellipse cx="160" cy="81" rx="3.6" ry="3.6" stroke-width="1.4"/>
 <ellipse cx="160.2" cy="81" rx="1.5" ry="1.5" stroke-width="0.8"/>
 <path d="M169.4,77.6 L176,75.2 L177.4,78.8 L170.8,81.2 Z" stroke-width="0.9"/>
 <ellipse cx="170" cy="79.4" rx="1.4" ry="2" stroke-width="0.9"/>
 <path d="M175.6,74.6 L178.6,72.4 L182,73.2 L183,77 L180,79.4 L176.6,78.6 Z" fill="#fff" stroke-width="1.6"/>
 <ellipse cx="179.2" cy="75.8" rx="1.6" ry="1.2" fill="none" stroke-width="0.7"/>
</g>
<!-- washer 5 + bolt 6 (right) -->
<g stroke="#222" fill="#fff">
 <path d="M421.3,108 L428.6,105.2 L430.2,109 L422.6,111.8 Z" stroke-width="0.9"/>
 <ellipse cx="428.8" cy="107" rx="1.3" ry="2" stroke-width="0.9"/>
 <path d="M415.4,108 L418,105.8 L421,107 L421.6,112.6 L419,115 L416,114 Z" fill="#fff" stroke-width="1.6"/>
 <ellipse cx="418.4" cy="110.4" rx="1.2" ry="2" fill="none" stroke-width="0.7"/>
 <ellipse cx="434" cy="105.3" rx="3.6" ry="4" stroke-width="1.4"/>
 <ellipse cx="434" cy="105.3" rx="1.6" ry="1.8" stroke-width="0.8"/>
</g>
<!-- leaders box 9 region -->
<g fill="none" stroke="#444" stroke-width="0.7">
 <line x1="156.8" y1="57.3" x2="159.4" y2="77.4"/>
 <line x1="177.6" y1="55" x2="178.4" y2="71.3"/>
 <line x1="42" y1="104" x2="42" y2="113.6"/>
 <line x1="78.8" y1="85.6" x2="78.8" y2="96"/>
 <line x1="421.3" y1="114.3" x2="428.8" y2="127.8"/>
 <line x1="435.5" y1="109.4" x2="443" y2="121"/>
 <polyline points="245.5,90.5 230.6,87.5 228.6,105.4"/>
 <polyline points="253.4,141.4 268.5,151.5 275.6,135.8"/>
 <polyline points="262.3,130.5 258,127.5"/>
 <polyline points="348.9,52 339.6,47.6 331.5,55.4"/>
 <polyline points="336,62.3 338.5,62.3 338.5,72.7"/>
 <polyline points="355.8,106.2 375.4,114 380,97"/>
 <polyline points="366.2,91.2 361.6,84.3"/>
 <polyline points="366.2,80.8 372,83.1 375.4,87.7"/>
 <line x1="335" y1="143" x2="342" y2="157"/>
</g>


<line x1="188" y1="137" x2="398" y2="66" stroke="#444" stroke-width="0.7"/>
<!-- front flange yoke (box 9) -->
<g stroke="#222" fill="#fff" stroke-linejoin="round">
 <!-- ear behind -->
 <path d="M224,121 L232,121.5 Q238.5,124 237.5,131 Q236.5,139 231,139.5 L224,139 Z" stroke-width="1"/>
 <ellipse cx="232.4" cy="131" rx="3" ry="5" stroke-width="1"/>
 <ellipse cx="232.8" cy="131.2" rx="1.6" ry="3.2" stroke-width="0.6"/>
 <!-- plate thickness -->
 <path d="M196.5,116 L199,113.4 L221,116.4 L224.2,119 L225.6,147 L223,149.4 L200,146.4 L197,143.6 Z" stroke-width="1.1"/>
 <path d="M199,116.6 L221.4,119.2 Q223.4,119.6 223.4,121.6 L224.4,145 Q224.4,147.2 222,147 L201,144.4 Q199,144 199,142 L198,118.6 Q198,116.4 199,116.6 Z" stroke-width="0.8"/>
 <circle cx="201.4" cy="119.4" r="1.5" stroke-width="0.9"/>
 <circle cx="219.4" cy="122" r="1.5" stroke-width="0.9"/>
 <circle cx="201.6" cy="142.2" r="1.5" stroke-width="0.9"/>
 <circle cx="219.8" cy="145" r="1.5" stroke-width="0.9"/>
 <ellipse cx="209.6" cy="132.2" rx="8.4" ry="8.8" stroke-width="1.1"/>
 <ellipse cx="210" cy="132.2" rx="6.8" ry="7.2" stroke-width="1.6"/>
 <ellipse cx="211" cy="132" rx="4.6" ry="5.4" stroke-width="0.8"/>
 <path d="M207.4,127 Q205.4,132 207.6,137" fill="none" stroke-width="0.7"/>
</g>
<!-- cross left -->
<use href="#cross" transform="translate(251.6,117)"/>
<use href="#clipside" transform="translate(230.8,111.8)"/>
<use href="#clipflat" transform="translate(250.6,91.5)"/>
<use href="#clipflat" transform="translate(251.5,139.5)"/>
<use href="#clipside" transform="translate(275.6,132.1)"/>

<!-- prop shaft 9 -->
<g stroke="#1a1a1a" fill="#fff" stroke-linejoin="round">
 <!-- right yoke (behind sleeve) -->
 <path d="M318.5,80 Q320,73 324,71.6 L333,70.8 Q337.8,71.6 337.5,75 Q337,79 332,82 L329,86 L322,84 Z" stroke-width="1.1"/>
 <ellipse cx="328.4" cy="73.8" rx="5.6" ry="2.3" fill="#fff" stroke="#111" stroke-width="1.6"/>
 <path d="M327,97 L335,96.4 Q338.6,98.4 337.5,101.6 Q336,104 331,104 L325,102 Z" stroke-width="1.1"/>
 <!-- sleeve -->
 <path d="M306,83.4 L323.2,78.9 Q329.8,82 330.5,91 Q330.6,99 328,102.4 L309,106.4 Z" stroke-width="1.2"/>
 <path d="M315.6,81 Q321,92 318.6,104.2" fill="none" stroke="#111" stroke-width="1.8"/>
 <path d="M318.4,80.4 Q323.8,92 321.4,103.6" fill="none" stroke-width="0.7"/>
 <!-- tube -->
 <path d="M290,90.4 L306.5,83.2 Q310.4,95 309,106.4 L296,111.4 Z" stroke-width="1.1"/>
 <path d="M300.2,86.6 Q304.6,97 302.6,108.8" fill="none" stroke-width="0.9"/>
 <!-- left yoke arms -->
 <path d="M286,89.4 L290,89.6 Q298.8,96 299,104 Q299,114 296.4,118.2 L288.6,121.6 L284.4,117 Q291.6,112 291.8,106 Q291.6,99.6 284.2,96 Z" stroke-width="1.2"/>
 <path d="M278.6,97.7 L278,112.6" fill="none" stroke-width="0.9"/>
 <!-- top ear -->
 <path d="M271.3,91.4 Q271.6,89.4 275,89.2 L285,89.4 Q290.2,90 290,93 L289.4,96 Q287.6,97.8 283,97.7 L274,97.4 Q271.3,96 271.3,91.4 Z" stroke-width="1.2"/>
 <ellipse cx="279.6" cy="91.4" rx="6.6" ry="2.1" fill="#fff" stroke="#111" stroke-width="1.9"/>
 <!-- bottom ear -->
 <path d="M272,116.2 Q272.4,113.3 276,113.3 L284,113.4 Q287,114 286.8,117 L286.6,120.6 Q285,122.7 281,122.7 L274.6,122.4 Q272,121 272,116.2 Z" stroke-width="1.2"/>
 <ellipse cx="279" cy="115.8" rx="5.8" ry="2.4" fill="#fff" stroke="#111" stroke-width="1.3"/>
</g>
<!-- cross right -->
<use href="#cross" transform="translate(354,77.8)"/>
<use href="#clipside" transform="translate(330.4,61.2)"/>
<use href="#clipflat" transform="translate(353.5,53.1)"/>
<use href="#clipflat" transform="translate(353.5,103.9)"/>
<use href="#clipside" transform="translate(378.9,91.2)"/>

<!-- rear flange yoke (box 9) -->
<g stroke="#1a1a1a" fill="#fff" stroke-linejoin="round">
 <path d="M375,52 Q375.4,47.6 379.6,47.8 Q383,48.6 384,51 Q389,52.6 394,51.6 Q396,50.6 399,51.6 Q402.6,53.4 401.8,58 L401.8,76 Q402.6,81 399,82.6 Q395.6,83.4 393.6,81 L382,78 Q378.6,79.6 376,77.6 Q374,75 375,72 Z" stroke-width="1.3"/>
 <path d="M377.6,54 Q382,51 386,53.6 L396,55 Q399.6,56 399.4,59 L399.6,76 Q399.6,79.6 396,79.6 L384,76.6 Q379.6,76.4 377.6,74 Z" fill="none" stroke-width="0.8"/>
 <circle cx="377.9" cy="52.1" r="1.7" fill="#fff" stroke-width="1.3"/>
 <circle cx="397" cy="55.6" r="1.7" fill="#fff" stroke-width="1.3"/>
 <circle cx="378.5" cy="75.2" r="1.7" fill="#fff" stroke-width="1.3"/>
 <circle cx="397" cy="79.3" r="1.7" fill="#fff" stroke-width="1.3"/>
 <!-- neck between ears -->
 <path d="M381,58 L387,59 L387,73 L381,74 Z" stroke-width="1"/>
 <!-- right ear -->
 <path d="M383,62 Q384,60 388,60.2 L395,61 Q399.3,63 399.3,68 Q399.4,75 395,77 L386,76.6 Q383,74 383,68 Z" stroke-width="1.2"/>
 <ellipse cx="390" cy="69.2" rx="4.6" ry="6.6" stroke-width="1.3"/>
 <ellipse cx="390.6" cy="69.4" rx="2.8" ry="4.6" stroke-width="0.8"/>
 <!-- left ear -->
 <path d="M366,59 Q369,56.6 374,56.7 L381,57.6 Q383.4,60 383,66 Q382.6,73 379,74.6 L370,74.6 Q364,73.6 363.6,66.6 Q363.4,61 366,59 Z" stroke-width="1.3"/>
 <ellipse cx="371.8" cy="66.2" rx="4.6" ry="6.2" stroke-width="1.3"/>
 <ellipse cx="372.4" cy="66.4" rx="2.8" ry="4.2" stroke-width="0.8"/>
</g>

<g id="labels" fill="#2a2a2a" stroke="#2a2a2a" stroke-width="0.12" font-size="13.2">
<text transform="translate(77.02,84.40) scale(0.62,1)">2</text>
<text transform="translate(154.82,55.60) scale(0.62,1)">5</text>
<text transform="translate(174.82,54.50) scale(0.62,1)">6</text>
<text transform="translate(139.72,253.80) scale(0.62,1)">3</text>
<text transform="translate(168.72,212.20) scale(0.62,1)">4</text>
<text transform="translate(225.72,91.50) scale(0.62,1)">7</text>
<text transform="translate(262.22,139.50) scale(0.62,1)">8</text>
<text transform="translate(266.32,160.80) scale(0.62,1)">7</text>
<text transform="translate(338.52,47.30) scale(0.62,1)">7</text>
<text transform="translate(366.6,100.8) scale(0.62,1)">8</text>
<text transform="translate(374.32,123.50) scale(0.62,1)">7</text>
<text transform="translate(340.72,168.40) scale(0.62,1)">9</text>
<text transform="translate(427.02,137.60) scale(0.62,1)">6</text>
<text transform="translate(441.12,132.30) scale(0.62,1)">5</text>
<text transform="translate(528.92,165.80) scale(0.62,1)">2</text>
<text transform="translate(445.12,208.40) scale(0.62,1)">2</text>
<text transform="translate(242.00,295.30) scale(0.62,1)">0</text>
<text transform="translate(260.40,384.30) scale(0.62,1)">0</text>
<text transform="translate(278.50,295.50) scale(0.62,1)">2</text>
<text transform="translate(304.00,292.00) scale(0.62,1)">3</text>
<text transform="translate(356.80,249.50) scale(0.62,1)">0</text>
<text transform="translate(375.50,347.00) scale(0.62,1)">0</text>
<text transform="translate(550.50,367.40) scale(0.62,1)">4</text>
</g>
<path d="M42.55,93.80 V103.00 M40.65,96.00 L42.55,93.80 M240.27,286.10 V295.30 M238.37,288.30 L240.27,286.10 M218.57,326.80 V336.00 M216.67,329.00 L218.57,326.80 M223.12,326.80 V336.00 M221.22,329.00 L223.12,326.80 M258.67,375.10 V384.30 M256.77,377.30 L258.67,375.10 M276.77,286.30 V295.50 M274.87,288.50 L276.77,286.30 M302.27,282.80 V292.00 M300.37,285.00 L302.27,282.80 M355.07,240.30 V249.50 M353.17,242.50 L355.07,240.30 M326.47,277.80 V287.00 M324.57,280.00 L326.47,277.80 M331.02,277.80 V287.00 M329.12,280.00 L331.02,277.80 M373.77,337.80 V347.00 M371.87,340.00 L373.77,337.80 M548.77,358.20 V367.40 M546.87,360.40 L548.77,358.20" fill="none" stroke="#2a2a2a" stroke-width="1.05"/>
</svg>
</body></html>
